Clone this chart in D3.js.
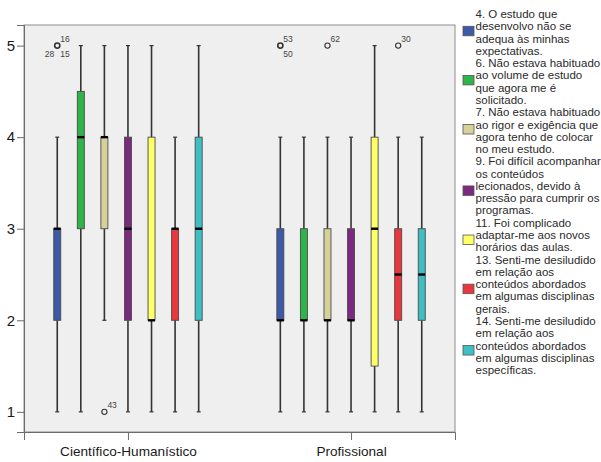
<!DOCTYPE html>
<html>
<head>
<meta charset="utf-8">
<script src="https://cdn.jsdelivr.net/npm/d3@7/dist/d3.min.js"></script>
<style>
  html, body { margin: 0; padding: 0; background: #ffffff; }
  svg { display: block; }
  text { font-family: "Liberation Sans", Arial, sans-serif; }
</style>
</head>
<body>
<svg id="chart" width="601" height="462"></svg>
<script>
// Course groups along the x axis
const groups = ["Científico-Humanístico", "Profissional"];

// Questionnaire items (one box per item inside each group)
const items = ["4", "6", "7", "9", "11", "13", "14"];

// Fill colour of each item
const itemColors = ["#3d5aa8", "#2fb34b", "#d6d199", "#7b2a80", "#ffff66", "#e8373d", "#3ebfc4"];

// Legend text, one array of lines per item
const legendLines = [
  ["4. O estudo que", "desenvolvo não se", "adequa às minhas", "expectativas."],
  ["6. Não estava habituado", "ao volume de estudo", "que agora me é", "solicitado."],
  ["7. Não estava habituado", "ao rigor e exigência que", "agora tenho de colocar", "no meu estudo."],
  ["9. Foi difícil acompanhar", "os conteúdos", "lecionados, devido à", "pressão para cumprir os", "programas."],
  ["11. Foi complicado", "adaptar-me aos novos", "horários das aulas."],
  ["13. Senti-me desiludido", "em relação aos", "conteúdos abordados", "em algumas disciplinas", "gerais."],
  ["14. Senti-me desiludido", "em relação aos", "conteúdos abordados", "em algumas disciplinas", "específicas."]
];

// Box statistics per item: [lower whisker, Q1, median, Q3, upper whisker]
const statsCH = [
  [1, 2, 3, 3, 4],
  [1, 3, 4, 4.5, 5],
  [2, 3, 4, 4, 5],
  [1, 2, 3, 4, 5],
  [1, 2, 2, 4, 5],
  [1, 2, 3, 3, 4],
  [1, 2, 3, 4, 5]
];
const statsProf = [
  [1, 2, 2, 3, 4],
  [1, 2, 2, 3, 4],
  [1, 2, 2, 3, 4],
  [1, 2, 2, 3, 4],
  [1, 1.5, 3, 4, 5],
  [1, 2, 2.5, 3, 4],
  [1, 2, 2.5, 3, 4]
];
const groupStats = [statsCH, statsProf];

// Outlying cases: group index, item index, value, case labels
const outlierGroup = [0, 0, 1, 1, 1];
const outlierItem  = [0, 2, 0, 2, 5];
const outlierValue = [5, 1, 5, 5, 5];
const outlierCases = [["16", "28", "15"], ["43"], ["53", "50"], ["62"], ["30"]];

// Y axis tick values
const yTicks = [1, 2, 3, 4, 5];

const svg = d3.select("#chart");

const plot = { left: 24, right: 455, top: 25, bottom: 432 };

const y = d3.scaleLinear().domain([0.78, 5.225]).range([plot.bottom, plot.top]);

const xGroup = d3.scalePoint()
  .domain(groups)
  .range([plot.left, plot.right])
  .padding(0.466);

const innerStep = 23.57;
const xItem = d3.scaleBand()
  .domain(items)
  .range([-innerStep * items.length / 2, innerStep * items.length / 2])
  .paddingInner(0.703)
  .paddingOuter(0.3515);

// Plot background and frame
svg.append("rect")
  .attr("x", plot.left).attr("y", plot.top)
  .attr("width", plot.right - plot.left).attr("height", plot.bottom - plot.top)
  .attr("fill", "#efefef")
  .attr("stroke", "#8c8c8c").attr("stroke-width", 1);

// Boxes
const boxW = xItem.bandwidth();
groups.forEach((g, gi) => {
  const gx = xGroup(g);
  const layer = svg.append("g").attr("transform", `translate(${gx},0)`);
  items.forEach((it, ii) => {
    const [lo, q1, med, q3, hi] = groupStats[gi][ii];
    const x0 = xItem(it);
    const cx = x0 + boxW / 2;
    const gItem = layer.append("g");
    // whiskers
    gItem.append("line")
      .attr("x1", cx).attr("x2", cx).attr("y1", y(hi)).attr("y2", y(q3))
      .attr("stroke", "#333").attr("stroke-width", 1.6);
    gItem.append("line")
      .attr("x1", cx).attr("x2", cx).attr("y1", y(q1)).attr("y2", y(lo))
      .attr("stroke", "#333").attr("stroke-width", 1.6);
    // whisker caps
    [lo, hi].forEach(v => {
      gItem.append("line")
        .attr("x1", cx - 2).attr("x2", cx + 2).attr("y1", y(v)).attr("y2", y(v))
        .attr("stroke", "#333").attr("stroke-width", 1.2);
    });
    // box
    gItem.append("rect")
      .attr("x", x0).attr("y", y(q3))
      .attr("width", boxW).attr("height", y(q1) - y(q3))
      .attr("fill", itemColors[ii])
      .attr("stroke", "#4a4a4a").attr("stroke-width", 0.9);
    // median
    gItem.append("line")
      .attr("x1", x0).attr("x2", x0 + boxW).attr("y1", y(med)).attr("y2", y(med))
      .attr("stroke", "#000").attr("stroke-width", 2.4);
  });
});

// Outliers with case labels
outlierValue.forEach((v, k) => {
  const gx = xGroup(groups[outlierGroup[k]]);
  const cx = gx + xItem(items[outlierItem[k]]) + boxW / 2;
  const cy = y(v);
  const cases = outlierCases[k];
  svg.append("circle")
    .attr("cx", cx).attr("cy", cy).attr("r", 2.6)
    .attr("fill", "none").attr("stroke", "#333")
    .attr("stroke-width", cases.length > 1 ? 1.6 : 1.1);
  const lab = svg.append("g").attr("font-size", 8.5).attr("fill", "#444");
  // first label above right, second below right (or below left when three)
  lab.append("text").attr("x", cx + 3).attr("y", cy - 4).text(cases[0]);
  if (cases.length === 2) {
    lab.append("text").attr("x", cx + 3).attr("y", cy + 11).text(cases[1]);
  }
  if (cases.length === 3) {
    lab.append("text").attr("x", cx - 3).attr("y", cy + 11).attr("text-anchor", "end").text(cases[1]);
    lab.append("text").attr("x", cx + 3).attr("y", cy + 11).text(cases[2]);
  }
});

// Y axis
const yAxis = svg.append("g")
  .attr("transform", `translate(${plot.left},0)`)
  .call(d3.axisLeft(y).tickValues(yTicks).tickFormat(d3.format("d")).tickSize(7).tickPadding(2));
yAxis.select(".domain").attr("stroke", "#6b6b6b");
yAxis.selectAll(".tick line").attr("stroke", "#6b6b6b");
yAxis.selectAll(".tick text").attr("font-size", 15).attr("fill", "#1a1a1a")
  .attr("font-family", "'Liberation Sans', Arial, sans-serif");

// X axis
const xAxis = svg.append("g")
  .attr("transform", `translate(0,${plot.bottom})`)
  .call(d3.axisBottom(xGroup).tickSize(8).tickPadding(6));
xAxis.select(".domain").attr("stroke", "#6b6b6b");
xAxis.selectAll(".tick line").attr("stroke", "#6b6b6b");
xAxis.selectAll(".tick text").attr("font-size", 13.6).attr("fill", "#1a1a1a")
  .attr("font-family", "'Liberation Sans', Arial, sans-serif");

// Legend
const legend = svg.append("g").attr("font-size", 11.5).attr("fill", "#2a2a2a");
const lineH = 12.28;
let lineIdx = 0;
legendLines.forEach((lines, i) => {
  const swatchLine = lineIdx + Math.floor((lines.length - 1) / 2);
  lines.forEach((t, j) => {
    legend.append("text")
      .attr("x", 475.5)
      .attr("y", 18 + (lineIdx + j) * lineH)
      .text(t);
  });
  legend.append("rect")
    .attr("x", 463).attr("y", 18 + swatchLine * lineH - 4)
    .attr("width", 11).attr("height", 9.5)
    .attr("fill", itemColors[i])
    .attr("stroke", "#555").attr("stroke-width", 0.8);
  lineIdx += lines.length;
});
</script>
</body>
</html>
